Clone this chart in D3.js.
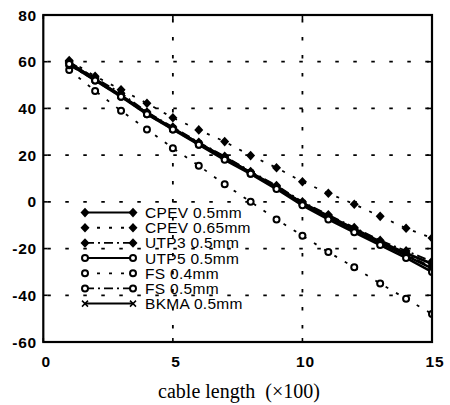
<!DOCTYPE html>
<html><head><meta charset="utf-8">
<script src="https://cdn.jsdelivr.net/npm/d3@7"></script>
<style>body{margin:0;background:#fff}svg{display:block}</style>
</head><body>
<svg id="c" width="450" height="405"></svg>
<script>
const xs = [1,2,3,4,5,6,7,8,9,10,11,12,13,14,15];
const cpev05  = [59.5,52.5,45.5,38,31.5,25,19,12.5,6.5,-0.5,-6,-11.5,-17,-22,-26.5];
const cpev065 = [60.5,53.8,48,42.2,36,30.8,25.8,19.8,14.6,8.6,3.7,-1,-6.2,-11.3,-15.5];
const utp3    = [60,53,46.5,38.5,32,25.5,19.5,13,7,0,-5.5,-11,-16.5,-21,-25.5];
const utp5    = [59,52,45,37.5,31,24.5,18,12,5.5,-1.5,-7.5,-13,-18.5,-24,-30];
const fs04    = [56.5,47.5,39,31,23,15.5,7.5,0,-7.5,-14.5,-21.5,-28,-35,-41.5,-48];
const fs05    = [58.5,52,45,37.5,31,24.5,18.5,12,6,-1,-6.5,-12,-17.5,-22.5,-28];
const bkma    = [59.5,52.5,45.5,38,31.5,25,19,12.5,6,-0.5,-6.5,-12,-17.5,-23,-28.5];
const names   = ["CPEV 0.5mm","CPEV 0.65mm","UTP3 0.5mm","UTP5 0.5mm","FS 0.4mm","FS 0.5mm","BKMA 0.5mm"];
const xTicks = [0,5,10,15];
const yTicks = [-60,-40,-20,0,20,40,60,80];
const xLabel = "cable length\u00a0\u00a0(\u00d7100)";

const styles = [
  {dash:null, marker:"diamond"},
  {dash:"3,9", marker:"diamond"},
  {dash:"9,4,2,4", marker:"diamond"},
  {dash:null, marker:"circle"},
  {dash:"3,9", marker:"circle"},
  {dash:"9,4,2,4", marker:"circle"},
  {dash:null, marker:"x"}
];
const series = [cpev05,cpev065,utp3,utp5,fs04,fs05,bkma];

const L=43.3, R=432, T=15, B=342;
const x = d3.scaleLinear().domain([0,15]).range([L,R]);
const y = d3.scaleLinear().domain([-60,80]).range([B,T]);
const svg = d3.select("#c");

svg.append("defs").append("clipPath").attr("id","clip")
  .append("rect").attr("x",L).attr("y",T).attr("width",R-L).attr("height",B-T);

// grid
const grid = svg.append("g").attr("stroke","#000").attr("stroke-width",1.8).attr("stroke-dasharray","3.5,14.5");
grid.selectAll("line.h").data(yTicks.filter(v=>v>-60&&v<80)).join("line")
  .attr("x1",L+4).attr("x2",R).attr("y1",d=>y(d)).attr("y2",d=>y(d));
grid.selectAll("line.v").data(xTicks.filter(v=>v>0&&v<15)).join("line")
  .attr("y1",T+4).attr("y2",B).attr("x1",d=>x(d)).attr("x2",d=>x(d));

function marker(g, type, cx, cy){
  if(type==="diamond"){
    g.append("path").attr("d",`M${cx},${cy-4.8}L${cx+4.5},${cy}L${cx},${cy+4.8}L${cx-4.5},${cy}Z`).attr("fill","#000");
  } else if(type==="circle"){
    g.append("circle").attr("cx",cx).attr("cy",cy).attr("r",3).attr("fill","#fff").attr("stroke","#000").attr("stroke-width",2);
  } else {
    g.append("path").attr("d",`M${cx-3},${cy-3}L${cx+3},${cy+3}M${cx-3},${cy+3}L${cx+3},${cy-3}`).attr("stroke","#000").attr("stroke-width",1.5);
  }
}

const plot = svg.append("g").attr("clip-path","url(#clip)");
const line = d3.line().x(d=>x(d[0])).y(d=>y(d[1]));
const order = [1,4,5,2,6,0,3];
order.forEach(i=>{
  const s = series[i], st = styles[i];
  const pts = xs.map((v,k)=>[v,s[k]]);
  plot.append("path").attr("d",line(pts)).attr("fill","none").attr("stroke","#000")
    .attr("stroke-width", st.dash ? 1.8 : 2.6).attr("stroke-dasharray",st.dash);
  const mg = plot.append("g");
  pts.forEach(p=>marker(mg, st.marker, x(p[0]), y(p[1])));
});

// axes frame
svg.append("rect").attr("x",L).attr("y",T).attr("width",R-L).attr("height",B-T)
  .attr("fill","none").attr("stroke","#000").attr("stroke-width",2.2);

// ticks inward
const tk = svg.append("g").attr("stroke","#000").attr("stroke-width",1.6);
yTicks.forEach(v=>{
  tk.append("line").attr("x1",L).attr("x2",L+4).attr("y1",y(v)).attr("y2",y(v));
  tk.append("line").attr("x1",R).attr("x2",R-5).attr("y1",y(v)).attr("y2",y(v));
});
xTicks.forEach(v=>{
  tk.append("line").attr("y1",B).attr("y2",B-4).attr("x1",x(v)).attr("x2",x(v));
  tk.append("line").attr("y1",T).attr("y2",T+4).attr("x1",x(v)).attr("x2",x(v));
});

// tick labels
const tf = "'Liberation Sans', Arial, sans-serif";
svg.append("g").selectAll("text").data(yTicks).join("text")
  .attr("x",37).attr("y",d=>y(d)+5.5).attr("text-anchor","end")
  .attr("font-family",tf).attr("font-size",15.5).attr("font-weight","bold").attr("letter-spacing",0.8)
  .text(d=>d);
svg.append("g").selectAll("text").data(xTicks).join("text")
  .attr("x",d=>x(d)+3).attr("y",367).attr("text-anchor","middle")
  .attr("font-family",tf).attr("font-size",15.5).attr("font-weight","bold").attr("letter-spacing",0.8)
  .text(d=>d);

svg.append("text").attr("x",239).attr("y",398).attr("text-anchor","middle")
  .attr("font-family","'Liberation Serif','Times New Roman',serif").attr("font-size",20)
  .text(xLabel);

// legend
const lg = svg.append("g");
names.forEach((n,i)=>{
  const ry = 212.6 + i*15.17, st = styles[i];
  lg.append("line").attr("x1",85).attr("x2",133).attr("y1",ry).attr("y2",ry)
    .attr("stroke","#000").attr("stroke-width",st.dash?1.8:2).attr("stroke-dasharray",st.dash);
  marker(lg, st.marker, 85, ry);
  marker(lg, st.marker, 133, ry);
  lg.append("text").attr("x",145).attr("y",ry+5.5).attr("font-family",tf).attr("font-size",15.5)
    .attr("letter-spacing",0.3).text(n);
});
</script>
</body></html>
